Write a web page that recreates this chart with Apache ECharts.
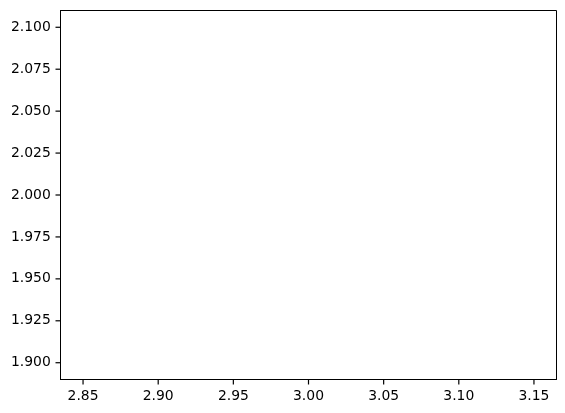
<!DOCTYPE html>
<html>
<head>
<meta charset="utf-8">
<script src="https://cdn.jsdelivr.net/npm/echarts@6/dist/echarts.min.js"></script>
<style>
html,body{margin:0;padding:0;background:#fff;}
#chart{width:565px;height:413px;}
</style>
</head>
<body>
<div id="chart"></div>
<script>
// Data: a single point plotted as a line (invisible, no marker), as in the reference
const xValues = [3];
const yValues = [2];
// Tick positions (labels)
const xTicks = [2.85, 2.90, 2.95, 3.00, 3.05, 3.10, 3.15];
const yTicks = [1.900, 1.925, 1.950, 1.975, 2.000, 2.025, 2.050, 2.075, 2.100];
// Full axis ranges (view limits)
const xRange = [2.835, 3.165];
const yRange = [1.89, 2.11];

const chart = echarts.init(document.getElementById('chart'), null, {renderer: 'canvas'});
const font = 'DejaVu Sans';
const TICK_LEN = 5;
const TICK_W = 1.2;

chart.setOption({
  animation: false,
  grid: {left: 60.5, top: 10.5, width: 496, height: 369,
    show: true, borderColor: '#000', borderWidth: 1, backgroundColor: 'transparent'},
  xAxis: {type: 'value', min: xRange[0], max: xRange[1],
    splitLine: {show: false},
    axisLine: {show: true, onZero: false, lineStyle: {color: '#000', width: 1}},
    axisTick: {show: false},
    axisLabel: {show: true, customValues: xTicks, color: '#000', fontFamily: font, fontSize: 13.9, margin: 9.7,
      formatter: v => Number(v).toFixed(2)}},
  yAxis: {type: 'value', min: yRange[0], max: yRange[1],
    splitLine: {show: false},
    axisLine: {show: true, onZero: false, lineStyle: {color: '#000', width: 1}},
    axisTick: {show: false},
    axisLabel: {show: true, customValues: yTicks, color: '#000', fontFamily: font, fontSize: 13.9, margin: 9.7,
      formatter: v => Number(v).toFixed(3)}},
  series: [
    {
      type: 'line',
      data: xValues.map((x, i) => [x, yValues[i]]),
      showSymbol: false,
      symbol: 'none',
      lineStyle: {color: '#1f77b4', width: 1.5}
    },
    {
      // x-axis tick marks, placed through the axis scale, drawn just below the bottom spine
      type: 'scatter', silent: true, clip: false, z: 10,
      data: xTicks.map(v => [v, yRange[0]]),
      symbol: 'rect',
      symbolSize: [TICK_W, TICK_LEN],
      symbolOffset: [0, TICK_LEN / 2],
      itemStyle: {color: '#000', opacity: 1},
      emphasis: {disabled: true}
    },
    {
      // y-axis tick marks, placed through the axis scale, drawn just left of the left spine
      type: 'scatter', silent: true, clip: false, z: 10,
      data: yTicks.map(v => [xRange[0], v]),
      symbol: 'rect',
      symbolSize: [TICK_LEN, TICK_W],
      symbolOffset: [-TICK_LEN / 2, 0],
      itemStyle: {color: '#000', opacity: 1},
      emphasis: {disabled: true}
    }
  ]
});
</script>
</body>
</html>
